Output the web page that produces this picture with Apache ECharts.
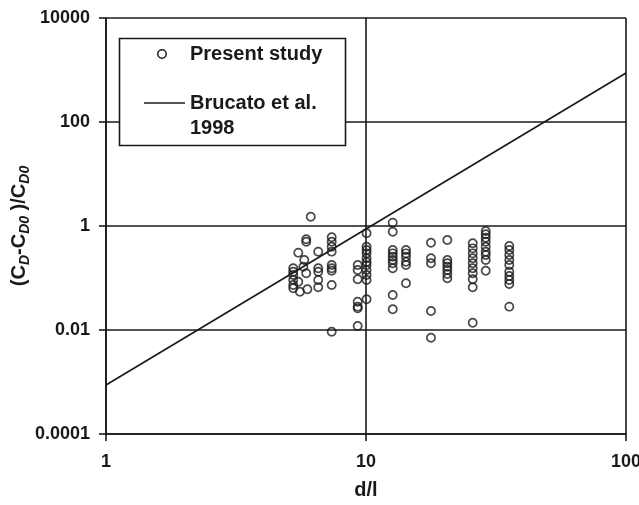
<!DOCTYPE html>
<html>
<head>
<meta charset="utf-8">
<script src="https://cdn.jsdelivr.net/npm/echarts@6/dist/echarts.min.js"></script>
<style>
html,body{margin:0;padding:0;background:#fff;}
#c{width:639px;height:505px;}
</style>
</head>
<body>
<div id="c"></div>
<script>
// Present study: d/l positions and (CD-CD0)/CD0 values per column
var studyX = [
  5.25,5.25,5.25,5.25,5.25,5.25,
  5.49,5.49,
  5.57,
  5.74,
  5.79,
  5.89,5.89,5.89,
  5.95,
  6.13,
  6.55,6.55,6.55,6.55,6.55,
  7.38,7.38,7.38,7.38,7.38,7.38,7.38,7.38,7.38,
  9.29,9.29,9.29,9.29,9.29,9.29,9.29,
  10.05,10.05,10.05,10.05,10.05,10.05,10.05,10.05,10.05,10.05,10.05,
  12.67,12.67,12.67,12.67,12.67,12.67,12.67,12.67,12.67,12.67,
  14.25,14.25,14.25,14.25,14.25,14.25,
  17.78,17.78,17.78,17.78,17.78,
  20.55,20.55,20.55,20.55,20.55,20.55,20.55,
  25.73,25.73,25.73,25.73,25.73,25.73,25.73,25.73,25.73,25.73,
  28.87,28.87,28.87,28.87,28.87,28.87,28.87,28.87,28.87,
  35.57,35.57,35.57,35.57,35.57,35.57,35.57,35.57,35.57,35.57
];
var studyY = [
  0.154,0.132,0.114,0.0916,0.0733,0.0634,
  0.307,0.0849,
  0.0545,
  0.165,
  0.222,
  0.555,0.499,0.123,
  0.0606,
  1.51,
  0.321,0.154,0.132,0.0916,0.0662,
  0.607,0.499,0.400,0.321,0.178,0.154,0.138,0.0733,0.00927,
  0.178,0.1425,0.0944,0.035,0.0281,0.0261,0.0119,
  0.724,0.400,0.345,0.298,0.239,0.203,0.177,0.1425,0.114,0.0916,0.0389,
  1.16,0.777,0.345,0.298,0.257,0.222,0.192,0.154,0.0471,0.025,
  0.345,0.298,0.257,0.206,0.178,0.0791,
  0.477,0.239,0.192,0.0232,0.0071,
  0.538,0.222,0.192,0.165,0.1425,0.119,0.0987,
  0.465,0.372,0.298,0.239,0.192,0.154,0.123,0.0944,0.0662,0.0138,
  0.80,0.692,0.596,0.499,0.400,0.321,0.277,0.222,0.138,
  0.413,0.345,0.277,0.222,0.178,0.132,0.109,0.0916,0.0767,0.0281
];
// Brucato et al. 1998 correlation endpoints
var brucatoX = [1, 100];
var brucatoY = [0.000876, 876];
// tick labels
var xTickLabels = {'0':'1','1':'10','2':'100'};
var yTickLabels = {'-4':'0.0001','-2':'0.01','0':'1','2':'100','4':'10000'};
var seriesNames = ['Present study', 'Brucato et al.', '1998'];

var FONT = '"Liberation Sans", Arial, sans-serif';
var INK = '#1a1a1a';

var chart = echarts.init(document.getElementById('c'), null, {renderer:'canvas'});
var studyData = studyX.map(function(x,i){return [x, studyY[i]];});
var lineData = brucatoX.map(function(x,i){return [x, brucatoY[i]];});

chart.setOption({
  animation:false,
  backgroundColor:'#fff',
  grid:{left:106, right:13, top:18, bottom:71, containLabel:false, outerBoundsMode:'none'},
  xAxis:{
    type:'log', logBase:10, min:1, max:100,
    name:'d/l', nameLocation:'middle', nameGap:46, nameMoveOverlap:false,
    nameTextStyle:{fontSize:20, fontWeight:'bold', fontFamily:FONT, color:INK},
    axisLine:{show:true, lineStyle:{color:INK, width:1.6}},
    axisTick:{show:true, inside:false, length:7, lineStyle:{color:INK, width:1.6}},
    axisLabel:{fontSize:18, fontWeight:'bold', fontFamily:FONT, color:INK, margin:19, hideOverlap:false,
      formatter:function(v){var k=String(Math.round(Math.log10(v)));return xTickLabels[k]!==undefined?xTickLabels[k]:'';}},
    splitLine:{show:true, lineStyle:{color:INK, width:1.6}},
    minorTick:{show:false}, minorSplitLine:{show:false}
  },
  yAxis:{
    type:'log', logBase:100, min:0.0001, max:10000,
    name:'(C{s|D}-C{s|D0} )/C{s|D0}', nameLocation:'middle', nameGap:74, nameRotate:90, nameMoveOverlap:false,
    nameTextStyle:{fontSize:20, fontWeight:'bold', fontFamily:FONT, color:INK,
      rich:{s:{fontSize:14, fontStyle:'italic', fontWeight:'bold', fontFamily:FONT, color:INK, verticalAlign:'bottom', lineHeight:26}}},
    axisLine:{show:true, lineStyle:{color:INK, width:1.6}},
    axisTick:{show:true, inside:false, length:7, lineStyle:{color:INK, width:1.6}},
    axisLabel:{fontSize:18, fontWeight:'bold', fontFamily:FONT, color:INK, margin:16,
      formatter:function(v){var k=String(Math.round(Math.log10(v)));return yTickLabels[k]!==undefined?yTickLabels[k]:'';}},
    splitLine:{show:true, lineStyle:{color:INK, width:1.6}},
    minorTick:{show:false}, minorSplitLine:{show:false}
  },
  series:[
    {
      name:seriesNames[0], type:'scatter', data:studyData,
      symbol:'circle', symbolSize:8.2,
      itemStyle:{color:'rgba(0,0,0,0)', borderColor:INK, borderWidth:1.7},
      z:3
    },
    {
      name:seriesNames[1], type:'line', data:lineData,
      symbol:'none', showSymbol:false,
      lineStyle:{color:INK, width:1.7},
      z:2
    }
  ],
  graphic:[
    {type:'rect', shape:{x:119.5, y:38.5, width:226, height:107}, style:{fill:'#fff', stroke:INK, lineWidth:1.6}, z:10},
    {type:'circle', shape:{cx:162, cy:54, r:4.2}, style:{fill:'none', stroke:INK, lineWidth:1.5}, z:11},
    {type:'text', x:190, y:54, style:{text:seriesNames[0], fill:INK, font:'bold 20px '+FONT, verticalAlign:'middle', align:'left'}, z:11},
    {type:'line', shape:{x1:144, y1:103, x2:185, y2:103}, style:{stroke:INK, lineWidth:1.6}, z:11},
    {type:'text', x:190, y:103, style:{text:seriesNames[1], fill:INK, font:'bold 20px '+FONT, verticalAlign:'middle', align:'left'}, z:11},
    {type:'text', x:190, y:128, style:{text:seriesNames[2], fill:INK, font:'bold 20px '+FONT, verticalAlign:'middle', align:'left'}, z:11}
  ]
});
</script>
</body>
</html>
